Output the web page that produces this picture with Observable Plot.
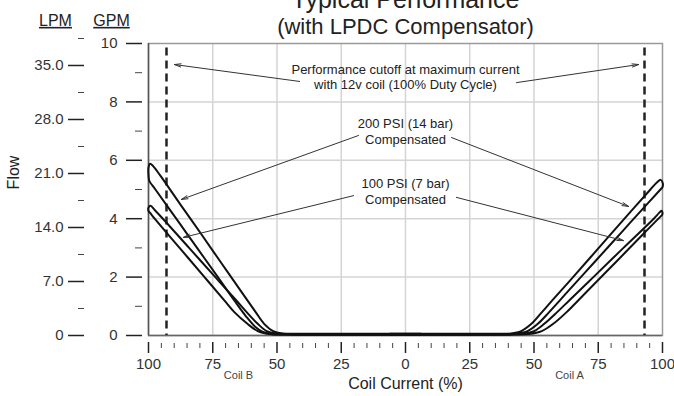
<!DOCTYPE html>
<html><head><meta charset="utf-8">
<script src="https://cdn.jsdelivr.net/npm/d3@7"></script>
<script src="https://cdn.jsdelivr.net/npm/@observablehq/plot@0.6"></script>
<style>body{margin:0;background:#fff;}</style>
</head><body><div id="chart"></div>
<script>
const LPM_PER_GPM = 3.785;
const xMajorTicks = [-100, -75, -50, -25, 0, 25, 50, 75, 100];
const xMinorTicks = [-95, -90, -85, -80, -70, -65, -60, -55, -45, -40, -35, -30, -20, -15, -10, -5,
                     5, 10, 15, 20, 30, 35, 40, 45, 55, 60, 65, 70, 80, 85, 90, 95];
const xGrid = [-75, -50, -25, 0, 25, 50, 75];
const gpmTicks = [0, 2, 4, 6, 8, 10];
const gpmMinorTicks = [1, 3, 5, 7, 9];
const yGrid = [2, 4, 6, 8];
const lpmTicks = [0, 7, 14, 21, 28, 35];
const lpmMinorTicks = [3.5, 10.5, 17.5, 24.5, 31.5, 38.5];
const cutoffCurrent = [-93, 93];

// Hysteresis loops: [coil current %, flow GPM]; coil B is drawn on the negative side
const coilB200 = [[6,0.06],[-42,0.06],[-48,0.07],[-51.5,0.15],[-55,0.4],[-58.3,0.8],[-63.9,1.5],[-71.8,2.5],[-79.7,3.5],[-87.7,4.5],[-95.6,5.5],[-98.2,5.8],[-99.4,5.88],[-100,5.75],[-100,5.5],[-99.7,5.3],[-97.3,5.0],[-89.2,4.0],[-81.1,3.0],[-73.0,2.0],[-66.6,1.2],[-62,0.65],[-58.5,0.3],[-55.5,0.12],[-52,0.05],[-46,0.03],[6,0.03]];
const coilB100 = [[6,0.05],[-44,0.05],[-50,0.07],[-54,0.15],[-57.5,0.4],[-61.8,0.8],[-65.8,1.2],[-74.0,2.0],[-84.2,3.0],[-94.4,4.0],[-97.6,4.3],[-99.2,4.44],[-100,4.38],[-100,4.27],[-99.2,4.18],[-97.6,4.0],[-87.9,3.0],[-78.2,2.0],[-70.5,1.2],[-66.6,0.8],[-61.5,0.4],[-57.5,0.15],[-53,0.05],[-47,0.03],[6,0.03]];
const coilA200 = [[-6,0.06],[35,0.06],[41,0.07],[45,0.15],[49,0.4],[53.1,0.8],[57.1,1.2],[65.2,2.0],[75.2,3.0],[85.2,4.0],[95.3,5.0],[97.8,5.24],[99.3,5.33],[100,5.25],[100,5.08],[99.2,5.0],[94.0,4.5],[83.7,3.5],[73.4,2.5],[63.1,1.5],[55.9,0.8],[51.5,0.4],[47.5,0.15],[43,0.05],[38,0.03],[-6,0.03]];
const coilA100 = [[-6,0.05],[40,0.05],[46,0.07],[50,0.15],[54,0.4],[59,0.8],[63.7,1.2],[73.1,2.0],[84.8,3.0],[96.6,4.0],[98.6,4.19],[99.6,4.27],[100,4.2],[99.8,4.12],[99.3,4.08],[92.8,3.5],[81.7,2.5],[70.5,1.5],[62.7,0.8],[57.5,0.4],[53,0.15],[48,0.05],[42,0.03],[-6,0.03]];

const noteTexts = [
  {label: "Performance cutoff at maximum current\nwith 12v coil (100% Duty Cycle)", x: 0, y: 8.87},
  {label: "200 PSI (14 bar)\nCompensated", x: 0, y: 7.0},
  {label: "100 PSI (7 bar)\nCompensated", x: 0, y: 4.95}
];
const noteArrows = [
  {x1: -41.2, y1: 8.70, x2: -89.9, y2: 9.28},
  {x1: 43.2, y1: 8.66, x2: 90.7, y2: 9.28},
  {x1: -18.3, y1: 6.85, x2: -87.2, y2: 4.66},
  {x1: 17.9, y1: 6.78, x2: 86.8, y2: 4.42},
  {x1: -20.2, y1: 4.79, x2: -86.4, y2: 3.36},
  {x1: 19.8, y1: 4.73, x2: 84.8, y2: 3.25}
];

const loops = [
  ...coilB200.map(([c, g]) => ({loop: "B200", c, g})),
  ...coilB100.map(([c, g]) => ({loop: "B100", c, g})),
  ...coilA200.map(([c, g]) => ({loop: "A200", c, g})),
  ...coilA100.map(([c, g]) => ({loop: "A100", c, g}))
];

const lpmFmt = d => { const v = Math.round(d * LPM_PER_GPM * 10) / 10; return v === 0 ? "0" : v.toFixed(1); };

const chart = Plot.plot({
  width: 674, height: 396,
  marginLeft: 148, marginRight: 12, marginTop: 43, marginBottom: 61,
  style: {fontFamily: "'Liberation Sans', Arial, sans-serif", fontSize: "15px", color: "#333", background: "#fff"},
  x: {domain: [-100, 100]},
  y: {domain: [0, 10]},
  marks: [
    Plot.gridX(xGrid, {stroke: "#d4d4d4", strokeOpacity: 1, strokeWidth: 1.5}),
    Plot.gridY(yGrid, {stroke: "#d4d4d4", strokeOpacity: 1, strokeWidth: 1.5}),
    Plot.frame({stroke: "#9a9a9a", strokeWidth: 1.5}),
    Plot.ruleX([-100], {stroke: "#555", strokeWidth: 1.5}),
    Plot.ruleY([0], {stroke: "#666", strokeWidth: 1.5}),
    Plot.axisX(xMajorTicks, {anchor: "bottom", tickSize: 11, dy: 7, tickPadding: 5, tickFormat: d => Math.abs(d), fontSize: 15, stroke: "#222", strokeWidth: 1.5, label: null}),
    Plot.axisX(xMinorTicks, {anchor: "bottom", tickSize: 5, dy: 8, tickFormat: () => "", stroke: "#444", strokeWidth: 1, label: null}),
    Plot.axisY(gpmTicks, {anchor: "left", tickSize: 16, dx: -6, tickPadding: 9, fontSize: 15, stroke: "#222", strokeWidth: 1.5, label: null}),
    Plot.axisY(gpmMinorTicks, {anchor: "left", tickSize: 7, dx: -6, tickFormat: () => "", stroke: "#444", strokeWidth: 1, label: null}),
    Plot.axisY(lpmTicks.map(v => v / LPM_PER_GPM), {anchor: "left", tickSize: 16, dx: -64, tickPadding: 5, tickFormat: lpmFmt, fontSize: 15, stroke: "#222", strokeWidth: 1.5, label: null}),
    Plot.axisY(lpmMinorTicks.map(v => v / LPM_PER_GPM), {anchor: "left", tickSize: 6, dx: -64, tickFormat: () => "", stroke: "#444", strokeWidth: 1, label: null}),
    Plot.ruleX(cutoffCurrent, {y1: 9.85, y2: 0, stroke: "#222", strokeWidth: 2.5, strokeDasharray: "8,5"}),
    Plot.line(loops, {x: "c", y: "g", z: "loop", curve: "catmull-rom", stroke: "#111", strokeWidth: 2}),
    Plot.arrow(noteArrows, {x1: "x1", y1: "y1", x2: "x2", y2: "y2", stroke: "#333", strokeWidth: 1, headLength: 10, headAngle: 28}),
    Plot.text(noteTexts, {x: "x", y: "y", text: "label", fontSize: 13, lineHeight: 1.18, fill: "#222"}),
    Plot.text(["Typical Performance"], {frameAnchor: "top", dy: -36, lineAnchor: "bottom", fontSize: 25, fill: "#222"}),
    Plot.text(["(with LPDC Compensator)"], {frameAnchor: "top", dy: -10, lineAnchor: "bottom", fontSize: 22, fill: "#222"}),
    Plot.text(["Coil Current (%)"], {frameAnchor: "bottom", dy: 53, fontSize: 16, fill: "#222"}),
    Plot.text(["Coil B"], {frameAnchor: "bottom-left", textAnchor: "middle", dx: 90, dy: 43, fontSize: 11, fill: "#444"}),
    Plot.text(["Coil A"], {frameAnchor: "bottom-right", textAnchor: "middle", dx: -93, dy: 43, fontSize: 11, fill: "#444"}),
    Plot.text(["Flow"], {frameAnchor: "left", textAnchor: "middle", dx: -135, dy: -17, rotate: -90, fontSize: 16, fill: "#222"}),
    Plot.text(["LPM"], {frameAnchor: "top-left", textAnchor: "middle", dx: -93, dy: -29, fontSize: 16, fill: "#222"}),
    Plot.text(["GPM"], {frameAnchor: "top-left", textAnchor: "middle", dx: -37, dy: -29, fontSize: 16, fill: "#222"})
  ]
});
d3.select(chart).selectAll("text").filter(function() { return this.textContent === "LPM" || this.textContent === "GPM"; })
  .attr("text-decoration", "underline");
document.getElementById("chart").append(chart);
</script>
</body></html>
